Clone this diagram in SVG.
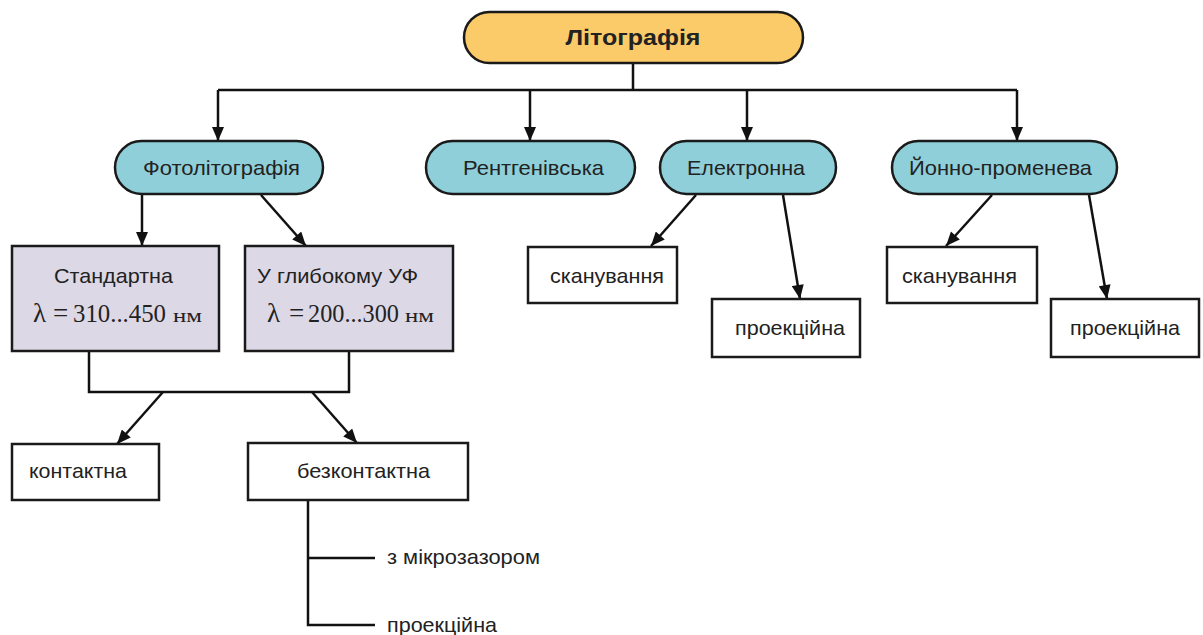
<svg xmlns="http://www.w3.org/2000/svg" width="1203" height="635" viewBox="0 0 1203 635">
  <defs>
    <marker id="arrow" viewBox="0 0 14 12" refX="14" refY="6" markerWidth="15" markerHeight="12" markerUnits="userSpaceOnUse" orient="auto">
      <path d="M0,0 L14,6 L0,12 Z" fill="#111"/>
    </marker>
    <style>
      .pill-root { fill: #fbcb6a; stroke: #1a1a1a; stroke-width: 2.5; }
      .pill { fill: #8fcfd9; stroke: #1a1a1a; stroke-width: 2.5; }
      .method { fill: #ddd8e6; stroke: #1a1a1a; stroke-width: 2.5; }
      .box { fill: #ffffff; stroke: #1a1a1a; stroke-width: 2.5; }
      .lbl { font-family: "Liberation Sans", Arial, sans-serif; font-size: 21px; fill: #222; }
      .root-lbl { font-family: "Liberation Sans", Arial, sans-serif; font-size: 22px; font-weight: bold; fill: #222; }
      .math { font-family: "Liberation Serif", "Times New Roman", serif; font-size: 27px; fill: #222; }
      .num { font-size: 25px; }
      .unit { font-size: 19px; }
      .wire { fill: none; stroke: #111; stroke-width: 2.5; }
      .link { fill: none; stroke: #111; stroke-width: 2.5; marker-end: url(#arrow); }
    </style>
  </defs>
  <rect width="1203" height="635" fill="#ffffff"/>

  <!-- connectors -->
  <g id="connectors">
    <!-- root bus -->
    <path class="wire" d="M633,63 V90 M218,90 H1017"/>
    <path class="link" d="M218,90 V141"/>
    <path class="link" d="M530,90 V141"/>
    <path class="link" d="M747,90 V141"/>
    <path class="link" d="M1017,90 V141"/>
    <!-- photolithography branches -->
    <path class="link" d="M142,194 V246"/>
    <path class="link" d="M261,195 L306,246"/>
    <!-- method boxes joined into one bus -->
    <path class="wire" d="M89,351 V392 H349 V351"/>
    <path class="link" d="M163,392 L117,444"/>
    <path class="link" d="M312,392 L357,443"/>
    <!-- contactless sub-options -->
    <path class="wire" d="M308,500 V625 H375 M308,558 H375"/>
    <!-- electron beam -->
    <path class="link" d="M696,195 L651,246"/>
    <path class="link" d="M783,195 L800,299"/>
    <!-- ion beam -->
    <path class="link" d="M992,195 L946,246"/>
    <path class="link" d="M1089,195 L1107,299"/>
  </g>

  <g id="n-lithography">
    <rect class="pill-root" x="464" y="12" width="339" height="51" rx="25.5"/>
    <text class="root-lbl" x="633" y="45" text-anchor="middle" textLength="135" lengthAdjust="spacingAndGlyphs">Літографія</text>
  </g>

  <g id="n-photo">
    <rect class="pill" x="115" y="141" width="208" height="53" rx="26.5"/>
    <text class="lbl" x="143" y="175" textLength="157" lengthAdjust="spacingAndGlyphs">Фотолітографія</text>
  </g>
  <g id="n-xray">
    <rect class="pill" x="426" y="141" width="209" height="53" rx="26.5"/>
    <text class="lbl" x="463" y="175" textLength="141" lengthAdjust="spacingAndGlyphs">Рентгенівська</text>
  </g>
  <g id="n-electron">
    <rect class="pill" x="660" y="141" width="176" height="53" rx="26.5"/>
    <text class="lbl" x="687" y="175" textLength="118" lengthAdjust="spacingAndGlyphs">Електронна</text>
  </g>
  <g id="n-ion">
    <rect class="pill" x="892" y="141" width="225" height="53" rx="26.5"/>
    <text class="lbl" x="909" y="175" textLength="183" lengthAdjust="spacingAndGlyphs">Йонно-променева</text>
  </g>

  <g id="n-standard">
    <rect class="method" x="12" y="246" width="207" height="105"/>
    <text class="lbl" x="54" y="283" textLength="119" lengthAdjust="spacingAndGlyphs">Стандартна</text>
    <text class="math" y="322"><tspan x="33">λ</tspan><tspan x="53">=</tspan><tspan class="num" x="73" textLength="93" lengthAdjust="spacingAndGlyphs">310...450</tspan><tspan class="unit" x="173" textLength="29" lengthAdjust="spacingAndGlyphs">нм</tspan></text>
  </g>
  <g id="n-deep-uv">
    <rect class="method" x="245" y="246" width="208" height="105"/>
    <text class="lbl" x="257" y="283" textLength="161" lengthAdjust="spacingAndGlyphs">У глибокому УФ</text>
    <text class="math" y="322"><tspan x="267">λ</tspan><tspan x="289">=</tspan><tspan class="num" x="308" textLength="91" lengthAdjust="spacingAndGlyphs">200...300</tspan><tspan class="unit" x="405" textLength="29" lengthAdjust="spacingAndGlyphs">нм</tspan></text>
  </g>

  <g id="n-contact">
    <rect class="box" x="12" y="444" width="147" height="56"/>
    <text class="lbl" x="29" y="478" textLength="98" lengthAdjust="spacingAndGlyphs">контактна</text>
  </g>
  <g id="n-contactless">
    <rect class="box" x="248" y="443" width="220" height="57"/>
    <text class="lbl" x="297" y="478" textLength="133" lengthAdjust="spacingAndGlyphs">безконтактна</text>
  </g>
  <g id="n-microgap">
    <text class="lbl" x="387" y="564" textLength="153" lengthAdjust="spacingAndGlyphs">з мікрозазором</text>
  </g>
  <g id="n-projection-photo">
    <text class="lbl" x="387" y="632" textLength="110" lengthAdjust="spacingAndGlyphs">проекційна</text>
  </g>

  <g id="n-e-scan">
    <rect class="box" x="528" y="247" width="149" height="56"/>
    <text class="lbl" x="550" y="283" textLength="114" lengthAdjust="spacingAndGlyphs">сканування</text>
  </g>
  <g id="n-e-proj">
    <rect class="box" x="712" y="299" width="148" height="58"/>
    <text class="lbl" x="735" y="335" textLength="110" lengthAdjust="spacingAndGlyphs">проекційна</text>
  </g>
  <g id="n-i-scan">
    <rect class="box" x="887" y="247" width="150" height="56"/>
    <text class="lbl" x="902" y="283" textLength="115" lengthAdjust="spacingAndGlyphs">сканування</text>
  </g>
  <g id="n-i-proj">
    <rect class="box" x="1051" y="299" width="148" height="58"/>
    <text class="lbl" x="1070" y="335" textLength="110" lengthAdjust="spacingAndGlyphs">проекційна</text>
  </g>
</svg>
